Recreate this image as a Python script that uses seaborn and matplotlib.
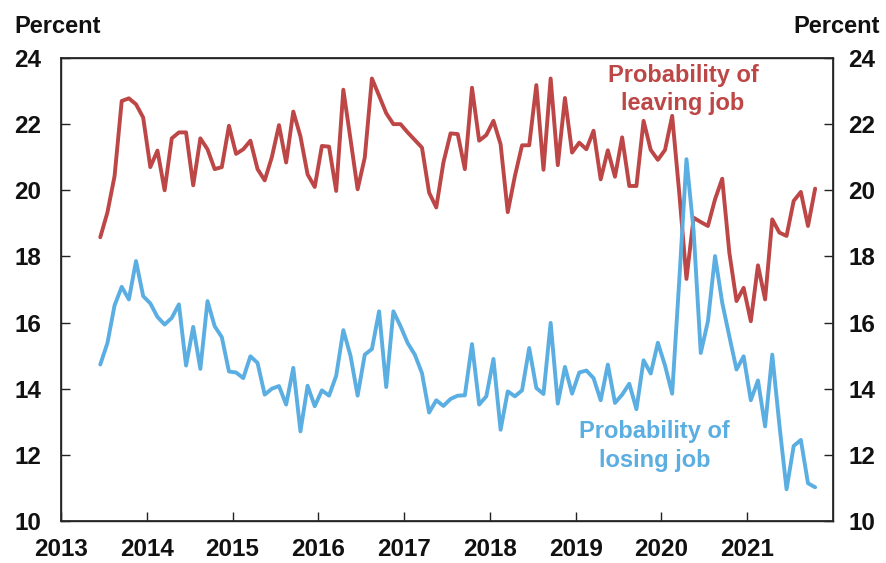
import matplotlib
matplotlib.use("Agg")
import matplotlib.pyplot as plt
import numpy as np
import pandas as pd
import seaborn as sns

# Monthly series, June 2013 through October 2021
start_month = "2013-06"
end_month = "2021-10"

leaving_job = [
    18.58, 19.33, 20.43, 22.70, 22.78, 22.60, 22.20, 20.70, 21.20, 20.00,
    21.57, 21.75, 21.75, 20.15, 21.57, 21.24, 20.64, 20.70, 21.95, 21.10,
    21.24, 21.50, 20.64, 20.30, 21.00, 21.97, 20.84, 22.38, 21.63, 20.48,
    20.10, 21.34, 21.32, 19.98, 23.04, 21.55, 20.03, 20.99, 23.38, 22.86,
    22.33, 22.00, 22.00, 21.75, 21.52, 21.29, 19.93, 19.48, 20.84, 21.72,
    21.70, 20.64, 23.10, 21.50, 21.67, 22.10, 21.39, 19.34, 20.43, 21.36,
    21.36, 23.18, 20.62, 23.38, 20.76, 22.79, 21.14, 21.44, 21.24, 21.80,
    20.33, 21.21, 20.41, 21.60, 20.13, 20.13, 22.10, 21.22, 20.92, 21.22,
    22.25, 19.90, 17.32, 19.17, 19.04, 18.92, 19.73, 20.35, 18.11, 16.65,
    17.05, 16.04, 17.73, 16.70, 19.12, 18.72, 18.62, 19.68, 19.95, 18.92,
    20.05,
]

losing_job = [
    14.73, 15.38, 16.52, 17.08, 16.70, 17.86, 16.80, 16.58, 16.17, 15.94,
    16.14, 16.55, 14.70, 15.87, 14.60, 16.65, 15.89, 15.56, 14.52, 14.49,
    14.32, 14.98, 14.78, 13.82, 14.00, 14.08, 13.52, 14.63, 12.71, 14.09,
    13.47, 13.95, 13.79, 14.39, 15.77, 15.00, 13.79, 15.03, 15.20, 16.34,
    14.05, 16.34, 15.89, 15.38, 15.03, 14.47, 13.28, 13.65, 13.48, 13.69,
    13.79, 13.80, 15.35, 13.52, 13.77, 14.90, 12.76, 13.92, 13.77, 13.95,
    15.23, 14.02, 13.84, 15.99, 13.55, 14.66, 13.85, 14.49, 14.55, 14.32,
    13.65, 14.73, 13.57, 13.82, 14.15, 13.38, 14.86, 14.46, 15.39, 14.70,
    13.85, 17.30, 20.94, 18.77, 15.08, 16.04, 18.01, 16.60, 15.58, 14.58,
    14.98, 13.65, 14.25, 12.86, 15.03, 12.90, 10.96, 12.27, 12.45, 11.14,
    11.02,
]

series_names = ["Probability of\nleaving job", "Probability of\nlosing job"]
series_colors = ["#BD4646", "#5BAEE1"]

year_ticks = list(range(2013, 2022))
percent_ticks = [10, 12, 14, 16, 18, 20, 22, 24]

# Place each month at its midpoint on a decimal-year axis
months = pd.period_range(start_month, end_month, freq="M")
decimal_year = months.year + (months.month - 0.5) / 12.0

df = pd.concat([
    pd.DataFrame({"date": decimal_year, "value": leaving_job, "series": series_names[0]}),
    pd.DataFrame({"date": decimal_year, "value": losing_job, "series": series_names[1]}),
], ignore_index=True)

sns.set_theme(style="white")
plt.rcParams["font.family"] = ["Liberation Sans", "DejaVu Sans"]
plt.rcParams["font.weight"] = "bold"

fig = plt.figure(figsize=(8.86, 5.63), dpi=100)
ax = fig.add_axes([0.0688, 0.0746, 0.8714, 0.8224])

sns.lineplot(
    data=df, x="date", y="value", hue="series",
    palette=dict(zip(series_names, series_colors)),
    linewidth=2.8, legend=False, ax=ax,
)

ax.set_xlim(2013, 2022)
ax.set_ylim(10, 24)
ax.set_xticks(year_ticks)
ax.set_xticklabels([str(y) for y in year_ticks])
ax.set_yticks(percent_ticks)
ax.set_xlabel("")
ax.set_ylabel("")

for side in ["left", "right", "top", "bottom"]:
    ax.spines[side].set_visible(True)
    ax.spines[side].set_color("#222222")
    ax.spines[side].set_linewidth(1.0)

ax.tick_params(axis="y", direction="in", length=6.5, width=1.0, color="#222222",
               labelsize=17.5, pad=14, left=True, right=False)
ax.tick_params(axis="x", direction="in", length=6.5, width=1.0, color="#222222",
               labelsize=17.5, pad=12, bottom=True)
for lab in ax.get_xticklabels() + ax.get_yticklabels():
    lab.set_fontweight("bold")
    lab.set_color("#111111")

# Mirrored percent scale on the right
ax2 = ax.twinx()
ax2.set_ylim(10, 24)
ax2.set_yticks(percent_ticks)
ax2.tick_params(axis="y", direction="in", length=6.5, width=1.0, color="#222222",
                labelsize=17.5, pad=11, right=True)
for lab in ax2.get_yticklabels():
    lab.set_fontweight("bold")
    lab.set_color("#111111")
ax2.grid(False)
ax.grid(False)

# Unit labels above both scales
fig.text(0.0158, 0.941, "Percent", fontsize=17, fontweight="bold", color="#111111",
         ha="left", va="baseline")
fig.text(0.9932, 0.941, "Percent", fontsize=17, fontweight="bold", color="#111111",
         ha="right", va="baseline")

# Direct series labels
ax.text(2020.25, 23.05, series_names[0], color=series_colors[0], fontsize=17,
        fontweight="bold", ha="center", va="center", linespacing=1.3)
ax.text(2019.92, 12.27, series_names[1], color=series_colors[1], fontsize=17,
        fontweight="bold", ha="center", va="center", linespacing=1.3)

fig.savefig("out.png", dpi=100)
